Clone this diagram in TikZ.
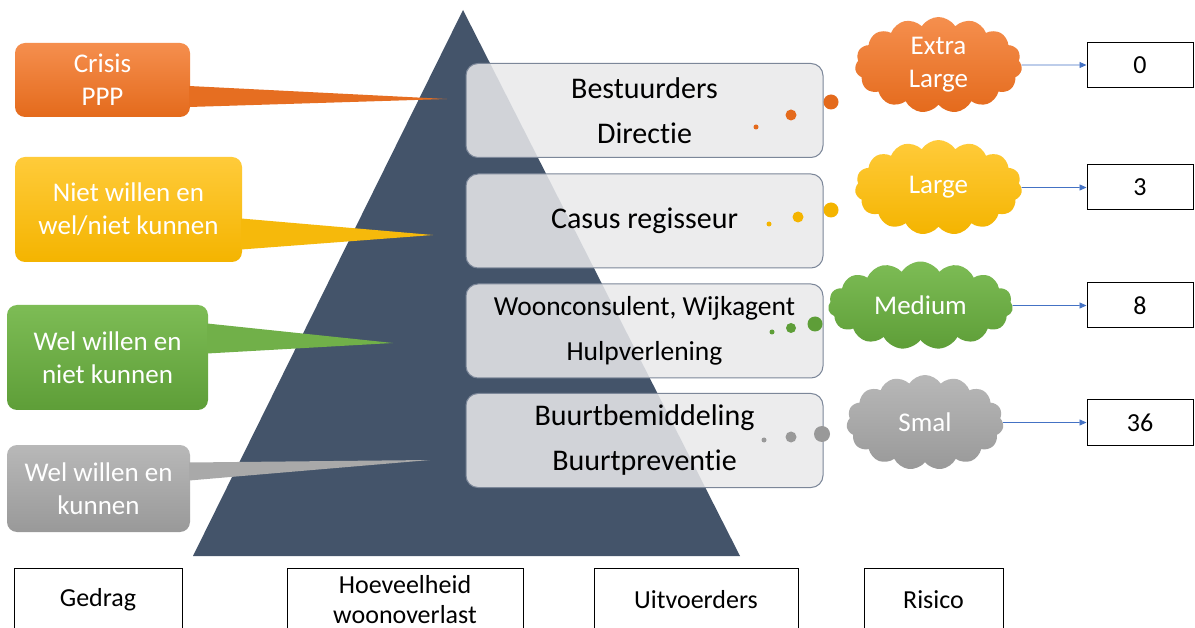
\documentclass[tikz,border=0pt]{standalone}
\usepackage{fontspec}
\setmainfont{Carlito}[Ligatures=NoCommon]
\usetikzlibrary{shapes.symbols,arrows.meta,calc}
\definecolor{pyrblue}{HTML}{44546A}
\definecolor{orangeL}{HTML}{F58F4E}
\definecolor{orangeD}{HTML}{E46A1C}
\definecolor{yellowL}{HTML}{FFCB3A}
\definecolor{yellowD}{HTML}{F4B400}
\definecolor{greenL}{HTML}{7DBC55}
\definecolor{greenD}{HTML}{5E9E38}
\definecolor{grayL}{HTML}{B8B8B8}
\definecolor{grayD}{HTML}{999999}
\definecolor{tierfill}{HTML}{E9E9EB}
\definecolor{tierline}{HTML}{7C8799}
\definecolor{linkblue}{HTML}{4472C4}
\begin{document}
\begin{tikzpicture}[x=1pt, y=-1pt]
\useasboundingbox (0,0) rectangle (1195,628);
\clip (0,0) rectangle (1195,628);
\fill[white] (0,0) rectangle (1195,628);

% pyramid
\fill[pyrblue] (463,10) -- (740,556) -- (193,556) -- cycle;

% behaviour callouts
\tikzset{callout/.style={rounded corners=10pt, text=white, align=center, inner sep=0pt, font=\fontsize{27}{33}\selectfont}}
\node[callout, top color=orangeL, bottom color=orangeD, minimum width=175pt, minimum height=74pt] (crisis) at (102.5,80) {Crisis\\PPP};
\node[callout, top color=yellowL, bottom color=yellowD, minimum width=227pt, minimum height=105pt] (nietw) at (128.5,209.5) {Niet willen en\\wel/niet kunnen};
\node[callout, top color=greenL, bottom color=greenD, minimum width=201pt, minimum height=105pt] (welniet) at (107.5,357.5) {Wel willen en\\niet kunnen};
\node[callout, top color=grayL, bottom color=grayD, minimum width=183pt, minimum height=87pt] (welwel) at (98.5,488.5) {Wel willen en\\kunnen};

\coordinate (tcrisis) at (447,99);
\coordinate (tnietw) at (433,235);
\coordinate (twelniet) at (393,343);
\coordinate (twelwel) at (430,460);
\fill[orangeD!90!orangeL] ($(crisis.east)+(-1,6)$) -- (tcrisis) -- ($(crisis.east)+(-1,27)$) -- cycle;
\fill[yellowD!80!yellowL] ($(nietw.east)+(-1,9)$) -- (tnietw) -- ($(nietw.east)+(-1,40)$) -- cycle;
\fill[greenD!40!greenL] ($(welniet.east)+(-1,-34)$) -- (twelniet) -- ($(welniet.east)+(-1,-4)$) -- cycle;
\fill[grayD!50!grayL] ($(welwel.east)+(-1,-26)$) -- (twelwel) -- ($(welwel.east)+(-1,-8)$) -- cycle;

% tiers
\tikzset{tier/.style={rounded corners=12pt, draw=tierline, line width=1pt, fill=tierfill, fill opacity=0.86, text opacity=1, minimum width=357pt, minimum height=94pt, align=center, font=\fontsize{30}{45}\selectfont}}
\node[tier] (bestuur) at (644.5,110.5) {Bestuurders\\Directie};
\node[tier] (casus) at (644.5,221) {Casus regisseur};
\node[tier, font=\fontsize{27.5}{45}\selectfont] (woon) at (644.5,331) {Woonconsulent, Wijkagent\\Hulpverlening};
\node[tier] (buurt) at (644.5,440.5) {Buurtbemiddeling\\Buurtpreventie};

% dots
\foreach \x/\y/\r/\c in {756/127/2.5/orangeD, 791/115/5.5/orangeD, 831/102/7.5/orangeD,
  769/224/2.5/yellowD, 798/217/5.5/yellowD, 831/210/7.5/yellowD,
  772/332/2.5/greenD, 791/328/5/greenD, 815/324/7.5/greenD,
  764/440/2.5/grayD, 791/437/5.5/grayD, 822/434/8/grayD}
  \fill[\c] (\x,\y) circle[radius=\r];

% risk clouds
\tikzset{risk/.style={cloud, cloud puffs=15, cloud puff arc=115, cloud ignores aspect, inner sep=0pt, text=white, align=center, font=\fontsize{27}{33}\selectfont}}
\node[risk, top color=orangeL, bottom color=orangeD, minimum width=167pt, minimum height=96pt] (xl) at (938.5,65) {Extra\\Large};
\node[risk, top color=yellowL, bottom color=yellowD, minimum width=167pt, minimum height=95pt] (large) at (938.5,187.5) {Large};
\node[risk, top color=greenL, bottom color=greenD, minimum width=185pt, minimum height=88pt] (medium) at (920.5,305.5) {Medium};
\node[risk, top color=grayL, bottom color=grayD, minimum width=157pt, minimum height=95pt] (smal) at (925,422.5) {Smal};

% counts
\tikzset{count/.style={draw, line width=1pt, minimum width=106pt, minimum height=45pt, inner sep=0pt, font=\fontsize{26}{30}\selectfont}}
\node[count] (c0) at (1140,65) {0};
\node[count] (c3) at (1140,187.5) {3};
\node[count] (c8) at (1140,305.5) {8};
\node[count] (c36) at (1140,422.5) {36};

\tikzset{link/.style={-{Triangle[length=7pt,width=6pt]}, draw=linkblue, line width=0.8pt}}
\path (xl) edge[link] (c0);
\path (large) edge[link] (c3);
\path (medium) edge[link] (c8);
\path (smal) edge[link] (c36);

% column headers
\tikzset{header/.style={draw, line width=1pt, anchor=north, minimum height=62pt, align=center, font=\fontsize{26}{30}\selectfont}}
\node[header, minimum width=168pt] (gedrag) at (98,568) {Gedrag};
\node[header, minimum width=236pt] (hoeveel) at (405,568) {Hoeveelheid\\woonoverlast};
\node[header, minimum width=204pt] (uitvoer) at (696,568) {Uitvoerders};
\node[header, minimum width=139pt] (risico) at (933.5,568) {Risico};
\end{tikzpicture}
\end{document}
